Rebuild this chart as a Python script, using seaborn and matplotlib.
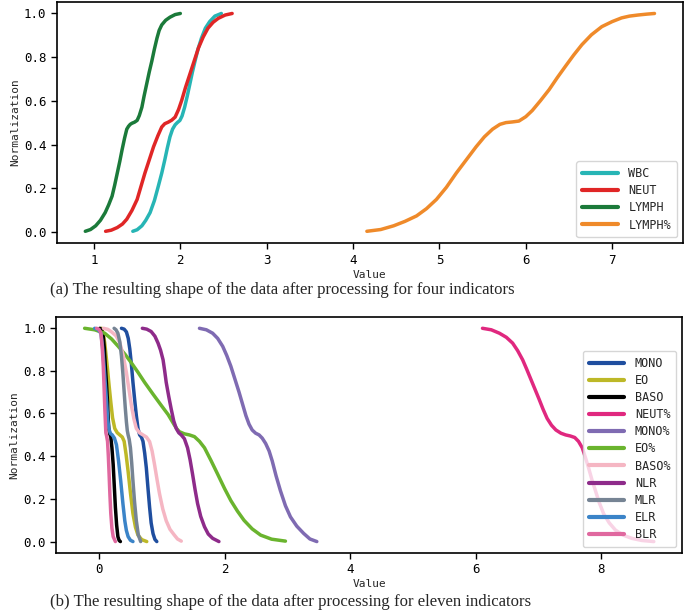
import pandas as pd
import matplotlib
matplotlib.use("Agg")
import matplotlib.pyplot as plt
import seaborn as sns

# ---- panel (a): four indicators ----
WBC_X = [1.45, 1.50, 1.555, 1.60, 1.65, 1.70, 1.745, 1.785, 1.82, 1.85, 1.88, 1.91, 1.94, 1.965,
         1.995, 2.02, 2.05, 2.08, 2.11, 2.14, 2.17, 2.205, 2.245, 2.29, 2.34, 2.40, 2.475]
WBC_Y = [0.005, 0.012, 0.03, 0.055, 0.09, 0.145, 0.21, 0.27, 0.33, 0.385, 0.435, 0.47, 0.49, 0.50,
         0.51, 0.53, 0.57, 0.62, 0.675, 0.73, 0.78, 0.835, 0.885, 0.93, 0.96, 0.985, 0.997]

NEUT_X = [1.135, 1.20, 1.27, 1.33, 1.38, 1.44, 1.50, 1.545, 1.59, 1.64, 1.69, 1.74, 1.785, 1.82, 1.86,
          1.90, 1.94, 1.98, 2.015, 2.06, 2.11, 2.16, 2.21, 2.265, 2.32, 2.38, 2.44, 2.52, 2.6]
NEUT_Y = [0.005, 0.01, 0.022, 0.038, 0.06, 0.10, 0.15, 0.21, 0.27, 0.33, 0.39, 0.44, 0.48, 0.495, 0.502,
          0.511, 0.525, 0.56, 0.6, 0.66, 0.72, 0.78, 0.84, 0.89, 0.93, 0.957, 0.975, 0.99, 0.997]

LYMPH_X = [0.90, 0.96, 1.02, 1.075, 1.13, 1.17, 1.21, 1.24, 1.27, 1.30, 1.325, 1.355, 1.38, 1.40, 1.42,
           1.44, 1.47, 1.50, 1.525, 1.555, 1.58, 1.61, 1.64, 1.67, 1.70, 1.73, 1.755, 1.785, 1.83,
           1.88, 1.94, 2.0]
LYMPH_Y = [0.005, 0.013, 0.03, 0.055, 0.09, 0.125, 0.165, 0.215, 0.27, 0.325, 0.375, 0.43, 0.47, 0.483,
           0.492, 0.497, 0.502, 0.51, 0.532, 0.57, 0.62, 0.675, 0.73, 0.78, 0.835, 0.885, 0.92, 0.945,
           0.966, 0.98, 0.992, 0.997]

LYMPHP_X = [4.16, 4.32, 4.47, 4.60, 4.735, 4.85, 4.965, 5.08, 5.195, 5.31, 5.425, 5.52, 5.615, 5.70,
            5.77, 5.845, 5.92, 6.0, 6.075, 6.17, 6.27, 6.365, 6.46, 6.555, 6.65, 6.76, 6.88, 7.0,
            7.11, 7.2, 7.30, 7.40, 7.49]
LYMPHP_Y = [0.005, 0.013, 0.03, 0.05, 0.075, 0.108, 0.15, 0.205, 0.27, 0.33, 0.39, 0.435, 0.47, 0.492,
            0.50, 0.503, 0.507, 0.527, 0.555, 0.60, 0.65, 0.705, 0.757, 0.808, 0.855, 0.90, 0.937, 0.96,
            0.977, 0.985, 0.99, 0.994, 0.997]

# ---- panel (b): eleven indicators ----
MONO_X = [0.357, 0.40, 0.436, 0.465, 0.49, 0.515, 0.54, 0.567, 0.594, 0.62, 0.647, 0.675, 0.70,
          0.727, 0.753, 0.78, 0.805, 0.83, 0.86, 0.89, 0.92]
MONO_Y = [0.997, 0.993, 0.98, 0.95, 0.90, 0.83, 0.745, 0.665, 0.59, 0.53, 0.50, 0.49, 0.47,
          0.415, 0.347, 0.25, 0.164, 0.09, 0.04, 0.013, 0.003]

EO_X = [0.04, 0.065, 0.09, 0.11, 0.135, 0.16, 0.187, 0.215, 0.25, 0.29, 0.33, 0.37, 0.40, 0.43,
        0.463, 0.50, 0.54, 0.58, 0.62, 0.68, 0.76]
EO_Y = [0.997, 0.975, 0.93, 0.875, 0.806, 0.73, 0.653, 0.58, 0.53, 0.51, 0.50, 0.49, 0.47, 0.41,
        0.33, 0.23, 0.133, 0.07, 0.033, 0.012, 0.003]

BASO_X = [0.013, 0.04, 0.067, 0.085, 0.10, 0.118, 0.135, 0.145, 0.155, 0.17, 0.187, 0.205, 0.225,
          0.243, 0.26, 0.28, 0.30, 0.32, 0.34]
BASO_Y = [0.997, 0.99, 0.96, 0.90, 0.82, 0.74, 0.653, 0.58, 0.53, 0.505, 0.49, 0.44, 0.362,
          0.26, 0.164, 0.08, 0.026, 0.008, 0.003]

NEUTP_X = [6.11, 6.25, 6.38, 6.49, 6.59, 6.67, 6.75, 6.815, 6.88, 6.945, 7.01, 7.075, 7.14, 7.21,
           7.28, 7.36, 7.435, 7.51, 7.58, 7.64, 7.70, 7.75, 7.80, 7.855, 7.91, 7.97, 8.04, 8.13,
           8.23, 8.36, 8.49, 8.65, 8.84]
NEUTP_Y = [0.997, 0.99, 0.974, 0.955, 0.928, 0.893, 0.85, 0.806, 0.76, 0.714, 0.668, 0.62, 0.577,
           0.545, 0.523, 0.508, 0.50, 0.495, 0.488, 0.47, 0.44, 0.395, 0.347, 0.29, 0.24, 0.185,
           0.133, 0.09, 0.056, 0.032, 0.018, 0.008, 0.003]

MONOP_X = [1.60, 1.71, 1.81, 1.89, 1.97, 2.035, 2.10, 2.165, 2.23, 2.285, 2.34, 2.39, 2.44, 2.495,
           2.55, 2.60, 2.655, 2.71, 2.76, 2.82, 2.89, 2.97, 3.05, 3.15, 3.26, 3.36, 3.47]
MONOP_Y = [0.997, 0.99, 0.974, 0.95, 0.913, 0.87, 0.82, 0.76, 0.70, 0.645, 0.59, 0.55, 0.523, 0.508,
           0.50, 0.485, 0.46, 0.425, 0.378, 0.31, 0.24, 0.17, 0.118, 0.075, 0.041, 0.015, 0.003]

EOP_X = [-0.23, -0.07, 0.09, 0.20, 0.305, 0.41, 0.515, 0.62, 0.726, 0.86, 0.99, 1.10, 1.20, 1.24,
         1.28, 1.36, 1.44, 1.52, 1.60, 1.68, 1.785, 1.89, 2.0, 2.10, 2.205, 2.31, 2.44, 2.575,
         2.75, 2.97]
EOP_Y = [0.997, 0.99, 0.974, 0.947, 0.913, 0.877, 0.836, 0.792, 0.745, 0.69, 0.638, 0.595, 0.546,
         0.528, 0.515, 0.505, 0.50, 0.492, 0.47, 0.44, 0.38, 0.317, 0.25, 0.194, 0.145, 0.102,
         0.062, 0.033, 0.014, 0.005]

BASOP_X = [0.07, 0.14, 0.20, 0.27, 0.33, 0.385, 0.436, 0.475, 0.515, 0.555, 0.594, 0.645, 0.70,
           0.755, 0.805, 0.845, 0.884, 0.925, 0.964, 1.015, 1.07, 1.13, 1.20, 1.25, 1.31]
BASOP_Y = [0.997, 0.992, 0.98, 0.962, 0.93, 0.87, 0.79, 0.715, 0.638, 0.575, 0.53, 0.51, 0.50,
           0.49, 0.469, 0.425, 0.362, 0.29, 0.225, 0.155, 0.10, 0.06, 0.033, 0.015, 0.005]

NLR_X = [0.69, 0.76, 0.83, 0.89, 0.94, 0.98, 1.02, 1.045, 1.07, 1.11, 1.15, 1.19, 1.23, 1.27,
         1.31, 1.36, 1.41, 1.45, 1.49, 1.53, 1.57, 1.62, 1.68, 1.74, 1.81, 1.91]
NLR_Y = [0.997, 0.993, 0.982, 0.96, 0.928, 0.895, 0.85, 0.80, 0.745, 0.68, 0.62, 0.565, 0.53, 0.51,
         0.50, 0.482, 0.44, 0.385, 0.317, 0.245, 0.18, 0.12, 0.072, 0.038, 0.018, 0.003]

MLR_X = [0.24, 0.27, 0.30, 0.33, 0.357, 0.38, 0.40, 0.418, 0.436, 0.45, 0.463, 0.48, 0.50, 0.52,
         0.54, 0.565, 0.594, 0.625, 0.663]
MLR_Y = [0.997, 0.99, 0.974, 0.935, 0.867, 0.785, 0.70, 0.625, 0.56, 0.52, 0.50, 0.48, 0.44, 0.37,
         0.286, 0.19, 0.10, 0.035, 0.003]

ELR_X = [-0.07, -0.02, 0.03, 0.055, 0.08, 0.10, 0.12, 0.135, 0.155, 0.18, 0.21, 0.245, 0.277,
         0.31, 0.345, 0.38, 0.41, 0.435, 0.463, 0.50, 0.54]
ELR_Y = [0.997, 0.992, 0.974, 0.91, 0.82, 0.735, 0.653, 0.58, 0.53, 0.507, 0.50, 0.485, 0.454,
         0.38, 0.286, 0.18, 0.10, 0.055, 0.026, 0.009, 0.003]

BLR_X = [-0.04, 0.0, 0.03, 0.05, 0.067, 0.08, 0.092, 0.108, 0.12, 0.135, 0.148, 0.16, 0.173,
         0.187, 0.205, 0.225, 0.26]
BLR_Y = [0.997, 0.992, 0.974, 0.91, 0.82, 0.72, 0.62, 0.51, 0.495, 0.47, 0.40, 0.317, 0.22,
         0.133, 0.065, 0.026, 0.003]

TOP_NAMES = ["WBC", "NEUT", "LYMPH", "LYMPH%"]
TOP_COLORS = ["#27b5b5", "#e02626", "#1b7a3a", "#ef8a2a"]
BOT_NAMES = ["MONO", "EO", "BASO", "NEUT%", "MONO%", "EO%", "BASO%", "NLR", "MLR", "ELR", "BLR"]
BOT_COLORS = ["#1f4e9f", "#bdb827", "#000000", "#e0287f", "#7f6bb2", "#6ab42e",
              "#f5b6c3", "#8e2b8a", "#768494", "#3b84c8", "#e0689f"]

top_curves = [(WBC_X, WBC_Y), (NEUT_X, NEUT_Y), (LYMPH_X, LYMPH_Y), (LYMPHP_X, LYMPHP_Y)]
bot_curves = [(MONO_X, MONO_Y), (EO_X, EO_Y), (BASO_X, BASO_Y), (NEUTP_X, NEUTP_Y),
              (MONOP_X, MONOP_Y), (EOP_X, EOP_Y), (BASOP_X, BASOP_Y), (NLR_X, NLR_Y),
              (MLR_X, MLR_Y), (ELR_X, ELR_Y), (BLR_X, BLR_Y)]


def make_df(names, curves):
    rows = []
    for name, (xs, ys) in zip(names, curves):
        for x, y in zip(xs, ys):
            rows.append({"series": name, "Value": x, "Normalization": y})
    return pd.DataFrame(rows)


df_top = make_df(TOP_NAMES, top_curves)
df_bot = make_df(BOT_NAMES, bot_curves)

sns.set_theme(style="ticks")
plt.rcParams["font.family"] = ["DejaVu Sans Mono"]
plt.rcParams["axes.edgecolor"] = "black"
plt.rcParams["axes.linewidth"] = 1.2

fig = plt.figure(figsize=(6.85, 6.13), dpi=100)
ax1 = fig.add_axes([0.083, 0.603, 0.914, 0.394])
ax2 = fig.add_axes([0.082, 0.098, 0.914, 0.385])

for ax, df, names, colors in [(ax1, df_top, TOP_NAMES, TOP_COLORS),
                              (ax2, df_bot, BOT_NAMES, BOT_COLORS)]:
    sns.lineplot(data=df, x="Value", y="Normalization", hue="series",
                 hue_order=names, palette=colors, sort=False, estimator=None,
                 lw=2.5, ax=ax)
    ax.set_ylim(-0.05, 1.05)
    ax.set_yticks([0, 0.2, 0.4, 0.6, 0.8, 1.0])
    ax.set_xlabel("Value", fontsize=8, labelpad=2)
    ax.set_ylabel("Normalization", fontsize=8, labelpad=3)
    ax.tick_params(labelsize=9, length=4, width=1, colors="black")
    leg = ax.legend(loc="lower right", fontsize=8.5, handlelength=3,
                    labelspacing=0.35, handletextpad=0.9, borderpad=0.5)
    for line in leg.get_lines():
        line.set_linewidth(3)

ax2.set_xticks([0, 2, 4, 6, 8])

fig.text(0.073, 0.527, "(a) The resulting shape of the data after processing for four indicators",
         family="Liberation Serif", fontsize=12.1, va="center", ha="left")
fig.text(0.073, 0.018, "(b) The resulting shape of the data after processing for eleven indicators",
         family="Liberation Serif", fontsize=12.1, va="center", ha="left")

fig.savefig("out.png", dpi=100)
